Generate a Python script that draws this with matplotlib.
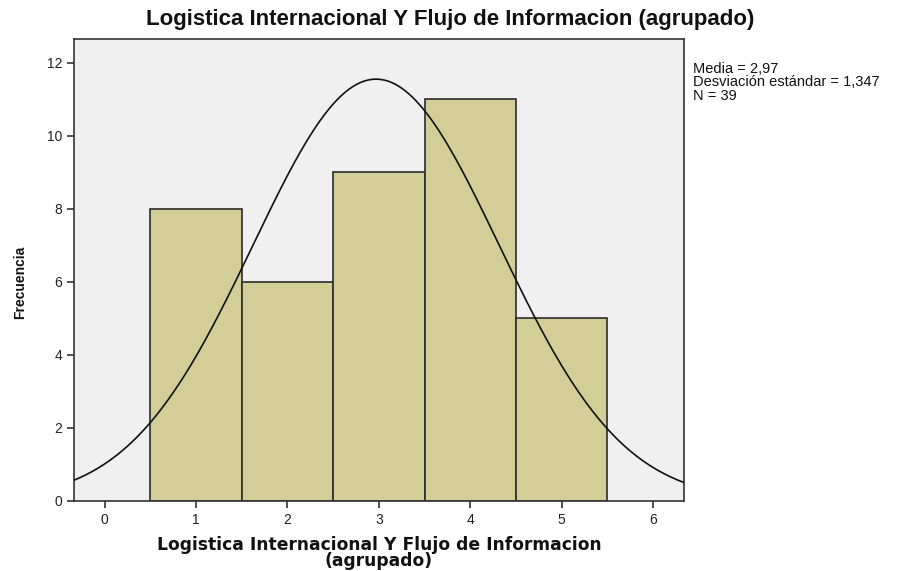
import numpy as np
import matplotlib.pyplot as plt

# Histogram data (grouped variable)
categories = [1, 2, 3, 4, 5]
counts = [8, 6, 9, 11, 5]
mean = 2.97
std = 1.347
n = 39

x_ticks = [0, 1, 2, 3, 4, 5, 6]
y_ticks = [0, 2, 4, 6, 8, 10, 12]

plt.rcParams['font.family'] = ['Liberation Sans', 'DejaVu Sans']

fig = plt.figure(figsize=(9, 5.71), dpi=100)
ax = fig.add_axes([74 / 900, 1 - 501 / 571, 610 / 900, 462 / 571])
ax.set_facecolor('#f0f0f0')

ax.bar(categories, counts, width=1.0, color='#d3ce98', edgecolor='#2b2b2b', linewidth=1.2, zorder=2)

# normal curve scaled to counts (bin width 1)
xs = np.linspace(-0.34, 6.34, 400)
ys = n * np.exp(-0.5 * ((xs - mean) / std) ** 2) / (std * np.sqrt(2 * np.pi))
ax.plot(xs, ys, color='#111111', linewidth=1.2, zorder=3)

ax.set_xlim(-0.336, 6.34)
ax.set_ylim(0, 12.65)
ax.set_xticks(x_ticks)
ax.set_yticks(y_ticks)
ax.tick_params(axis='both', direction='out', length=5, width=1.2, color='#333333',
               labelsize=10, labelcolor='#222222')
for s in ax.spines.values():
    s.set_color('#333333')
    s.set_linewidth(1.2)

fig.text(0.5, 1 - 20 / 571, 'Logistica Internacional Y Flujo de Informacion (agrupado)',
         ha='center', va='center', fontsize=16, fontweight='bold', color='#111111')
fig.text(20 / 900, 1 - 282 / 571, 'Frecuencia', rotation=90, ha='center', va='center',
         fontsize=10, fontweight='bold', color='#111111')
fig.text(379 / 900, 1 - 553 / 571, 'Logistica Internacional Y Flujo de Informacion\n(agrupado)',
         ha='center', va='center', fontsize=12.3, fontweight='bold', color='#111111',
         family='DejaVu Sans', linespacing=0.82)
fig.text(693 / 900, 1 - 62 / 571,
         'Media = 2,97\nDesviación estándar = 1,347\nN = 39',
         ha='left', va='top', fontsize=10.5, color='#111111', linespacing=0.95)

fig.savefig('out.png', dpi=100, facecolor='white')
